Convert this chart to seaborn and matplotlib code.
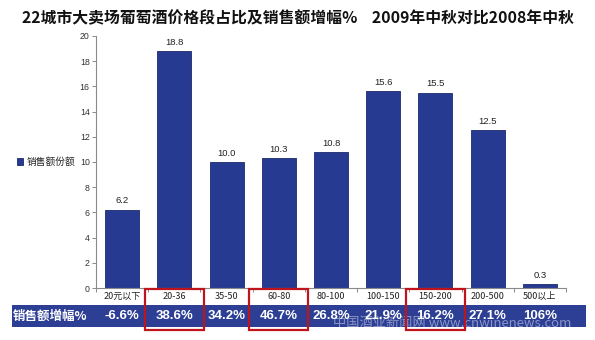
import matplotlib
matplotlib.use("Agg")
import matplotlib.pyplot as plt
import matplotlib.transforms as mtransforms
from matplotlib.patches import Rectangle
import seaborn as sns
import pandas as pd

# Price bands (yuan), share of sales (%), and sales growth (%)
categories = ["20元以下", "20-36", "35-50", "60-80", "80-100", "100-150", "150-200", "200-500", "500以上"]
share = [6.2, 18.8, 10.0, 10.3, 10.8, 15.6, 15.5, 12.5, 0.3]
growth_labels = ["-6.6%", "38.6%", "34.2%", "46.7%", "26.8%", "21.9%", "16.2%", "27.1%", "106%"]
highlighted = ["20-36", "60-80", "150-200"]

title = "22城市大卖场葡萄酒价格段占比及销售额增幅%    2009年中秋对比2008年中秋"
legend_label = "销售额份额"
growth_row_label = "销售额增幅%"
watermark = "中国酒业新闻网 www.cnwinenews.com"

sns.set_theme(style="white")
plt.rcParams["font.family"] = ["Liberation Sans", "Noto Sans CJK SC", "DejaVu Sans"]

CJK = ["Noto Sans CJK SC", "DejaVu Sans"]
BAR = "#263a91"
BAND = "#2c3f95"
RED = "#c0141c"

df = pd.DataFrame({"band": categories, "share": share})

fig = plt.figure(figsize=(5.95, 3.4), dpi=100)
ax = fig.add_axes([96 / 595, 52 / 340, 470 / 595, 252 / 340])

sns.barplot(data=df, x="band", y="share", color=BAR, width=0.65,
            saturation=1, edgecolor="#1b2a70", linewidth=0.6, ax=ax,
            label=legend_label)

ax.set_xlim(-0.5, len(categories) - 0.5)
ax.set_ylim(0, 20)
ax.set_yticks(range(0, 21, 2))
ax.set_xlabel("")
ax.set_ylabel("")

for i, v in enumerate(share):
    ax.text(i, v + 0.35, f"{v:.1f}", ha="center", va="bottom", fontsize=6.8, color="#222222")

for side in ["top", "right"]:
    ax.spines[side].set_visible(False)
for side in ["left", "bottom"]:
    ax.spines[side].set_color("#8a8a8a")
    ax.spines[side].set_linewidth(0.8)

ax.tick_params(axis="y", which="major", direction="out", length=3, width=0.7,
               color="#8a8a8a", labelsize=6.3, labelcolor="#333333", pad=1.5, left=True)
ax.tick_params(axis="x", which="major", length=0, labelsize=6.5, labelcolor="#222222", pad=3)
for t in ax.get_xticklabels():
    t.set_fontfamily(CJK)
ax.set_xticks([i - 0.5 for i in range(len(categories) + 1)], minor=True)
ax.tick_params(axis="x", which="minor", direction="out", length=3, width=0.7, color="#8a8a8a", bottom=True)

leg = ax.legend(loc="center right", bbox_to_anchor=(-0.025, 0.5), frameon=False,
                prop={"family": CJK, "size": 7}, handlelength=0.6, handleheight=0.6,
                handletextpad=0.4)

# Growth row: blue band across the figure with growth values under each category
fig.patches.append(Rectangle((12 / 595, 13 / 340), 574 / 595, 22 / 340,
                             transform=fig.transFigure, facecolor=BAND, edgecolor="none", zorder=0))
fig.text(50 / 595, 24 / 340, growth_row_label, ha="center", va="center",
         fontsize=9, fontweight="bold", color="white", family=CJK)

blend = mtransforms.blended_transform_factory(ax.transData, fig.transFigure)
for i, lab in enumerate(growth_labels):
    fig.text(i, 24 / 340, lab, transform=blend, ha="center", va="center",
             fontsize=9.5, fontweight="bold", color="white")

for name in highlighted:
    i = categories.index(name)
    rect = Rectangle((i - 0.565, 10 / 340), 1.13, 41 / 340, transform=blend,
                     facecolor="none", edgecolor=RED, linewidth=1.6, clip_on=False, zorder=5)
    fig.patches.append(rect)

fig.text(452 / 595, 16 / 340, watermark, ha="center", va="center", fontsize=9.5,
         color="white", alpha=0.45, family=CJK)

fig.text(0.5, 322 / 340, title, ha="center", va="center", fontsize=11.4,
         fontweight="bold", color="#111111", family=CJK)

fig.savefig("out.png", dpi=100)
